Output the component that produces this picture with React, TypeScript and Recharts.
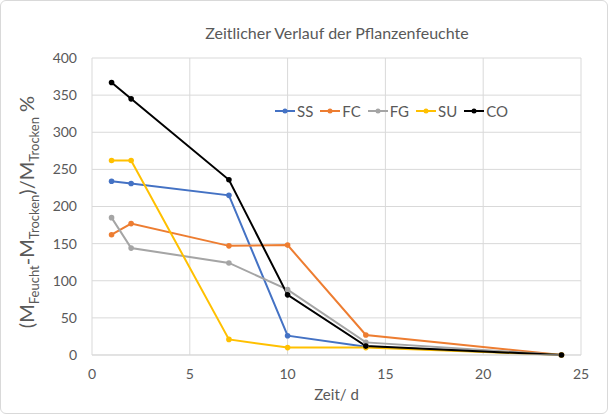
import { CartesianGrid, Line, LineChart, XAxis, YAxis } from "recharts";

const days = [1, 2, 7, 10, 14, 24];
const ss = [234, 231, 215, 26, 11, 0];
const fc = [162, 177, 147, 148, 27, 0];
const fg = [185, 144, 124, 88, 17, 0];
const su = [262, 262, 21, 10, 10, 0];
const co = [367, 345, 236, 81, 12, 0];

const xTicks = [0, 5, 10, 15, 20, 25];
const yTicks = [0, 50, 100, 150, 200, 250, 300, 350, 400];

const SERIES = [
  { key: "SS", values: ss, color: "#4472C4" },
  { key: "FC", values: fc, color: "#ED7D31" },
  { key: "FG", values: fg, color: "#A5A5A5" },
  { key: "SU", values: su, color: "#FFC000" },
  { key: "CO", values: co, color: "#000000" },
];

const data = days.map((d, i) => {
  const row: Record<string, number> = { day: d };
  SERIES.forEach((s) => (row[s.key] = s.values[i]));
  return row;
});

const FONT = "Lato, 'Open Sans', sans-serif";
const TEXT = "#595959";

function LegendBox() {
  return (
    <div
      style={{
        position: "absolute",
        left: 273,
        top: 101,
        display: "flex",
        gap: 6,
        fontFamily: FONT,
        fontSize: 15,
        color: TEXT,
      }}
    >
      {SERIES.map((s) => (
        <div key={s.key} style={{ display: "flex", alignItems: "center" }}>
          <svg width={22} height={10}>
            <line x1={1} y1={5} x2={21} y2={5} stroke={s.color} strokeWidth={2} />
            <circle cx={11} cy={5} r={2.5} fill={s.color} />
          </svg>
          <span style={{ marginLeft: 1 }}>{s.key}</span>
        </div>
      ))}
    </div>
  );
}

function YLabel() {
  const cx = 33;
  const cy = 211;
  return (
    <text
      transform={`translate(${cx},${cy}) rotate(-90)`}
      textAnchor="middle"
      fill={TEXT}
      fontFamily={FONT}
      fontSize={20}
    >
      <tspan>(M</tspan>
      <tspan fontSize={13} dy={5}>Feucht</tspan>
      <tspan dy={-5}>-M</tspan>
      <tspan fontSize={13} dy={5}>Trocken</tspan>
      <tspan dy={-5}>)/M</tspan>
      <tspan fontSize={13} dy={5}>Trocken</tspan>
      <tspan dy={-5}> %</tspan>
    </text>
  );
}

export default function App() {
  return (
    <div
      style={{
        position: "absolute",
        left: 0,
        top: 0,
        width: 608,
        height: 414,
        background: "#fff",
        boxSizing: "border-box",
        border: "1px solid #d9d9d9",
        borderRadius: 6,
      }}
    >
      <div
        style={{
          position: "absolute",
          top: 22,
          left: 92,
          width: 488,
          textAlign: "center",
          fontFamily: FONT,
          fontSize: 16,
          color: TEXT,
        }}
      >
        Zeitlicher Verlauf der Pflanzenfeuchte
      </div>
      <LineChart
        width={606}
        height={412}
        data={data}
        margin={{ top: 57, right: 26, bottom: 28, left: 41 }}
        style={{ position: "absolute", left: 0, top: 0 }}
      >
        <CartesianGrid stroke="#d9d9d9" />
        <XAxis
          dataKey="day"
          type="number"
          domain={[0, 25]}
          ticks={xTicks}
          tickLine={false}
          axisLine={{ stroke: "#d9d9d9" }}
          tickMargin={8}
          tick={{ fill: TEXT, fontFamily: FONT, fontSize: 14 }}
          label={{ value: "Zeit/ d", position: "insideBottom", offset: -15, fill: TEXT, fontFamily: FONT, fontSize: 15 }}
        />
        <YAxis
          type="number"
          domain={[0, 400]}
          ticks={yTicks}
          width={50}
          tickLine={false}
          axisLine={false}
          tickMargin={9}
          tick={{ fill: TEXT, fontFamily: FONT, fontSize: 14 }}
          label={<YLabel />}
        />
        {SERIES.map((s) => (
          <Line
            key={s.key}
            dataKey={s.key}
            stroke={s.color}
            strokeWidth={2}
            dot={{ r: 2.8, fill: s.color, stroke: s.color, strokeWidth: 0 }}
            activeDot={false}
            isAnimationActive={false}
          />
        ))}
      </LineChart>
      <LegendBox />
    </div>
  );
}
